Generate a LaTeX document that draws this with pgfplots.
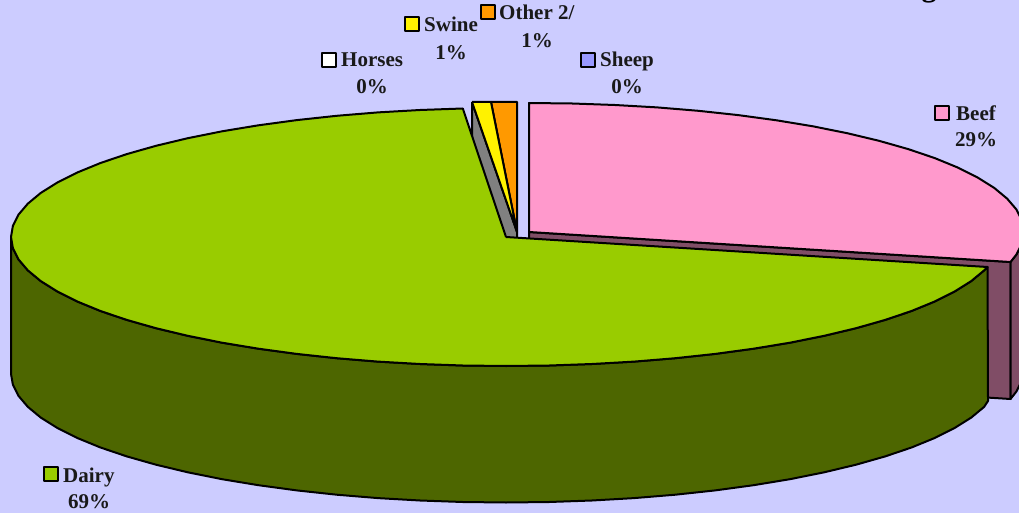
\documentclass[border=0pt]{standalone}
\usepackage{fontspec}
\setmainfont{Liberation Serif}
\usepackage{pgfplots}
\pgfplotsset{compat=1.18}
\definecolor{bgc}{HTML}{CCCCFF}
\definecolor{dairyc}{HTML}{99CC00}
\definecolor{dairyd}{HTML}{4D6600}
\definecolor{beefc}{HTML}{FF99CC}
\definecolor{beefd}{HTML}{804D66}
\definecolor{orangec}{HTML}{FF9900}
\definecolor{sheepc}{HTML}{9999FF}
\tikzset{lab/.style={font=\fontsize{21}{24}\selectfont\bfseries, text=black!90, inner sep=0pt}}
\begin{document}
\begin{tikzpicture}
\useasboundingbox (0,0) rectangle (1019pt,513pt);
\clip (0,0) rectangle (1019pt,513pt);
\begin{axis}[
  at={(0,0)}, anchor=south west, scale only axis, width=1019pt, height=513pt,
  xmin=0, xmax=1019, ymin=0, ymax=513, y dir=reverse, axis lines=none,
  clip=true,
  every axis plot/.append style={line width=2pt, line join=round},
]
% background
\addplot[fill=bgc, draw=none] coordinates {(0,0) (1019,0) (1019,513) (0,513) (0,0)};
% beef walls
\addplot[fill=beefd, draw=black] coordinates {(529,232) (1010.5,262) (1010.5,399) (529,369) (529,232)};
\addplot[fill=beefd, draw=black] coordinates {(1010.5,262) (1016.5,254.4) (1022.1,243.2) (1024,232) (1024,369) (1022.1,380.2) (1016.5,391.4) (1010.5,399) (1010.5,262)};
% beef top
\addplot[fill=beefc, draw=black] coordinates {(529,232) (529,103) (572.2,103.5) (614.9,105) (657.1,107.4) (698.3,110.8) (738.2,115.1) (776.5,120.3) (812.9,126.3) (847.2,133.2) (879,140.8) (908.2,149.1) (934.5,158) (957.7,167.5) (977.6,177.5) (994.2,187.9) (1007.1,198.6) (1016.5,209.6) (1022.1,220.8) (1024,232) (1022.1,243.2) (1016.5,254.4) (1010.5,262) (529,232)};
% small slices
\addplot[fill=gray, draw=black] coordinates {(472,102) (517,232) (517,369) (472,239) (472,102)};
\addplot[fill=orangec, draw=black] coordinates {(491,102) (517,102) (517,232) (491,102)};
\addplot[fill=yellow, draw=black] coordinates {(472,102) (491,102) (517,232) (472,102)};
% dairy wall
\addplot[fill=dairyd, draw=black] coordinates {(11,237) (12.9,248.2) (18.5,259.4) (27.9,270.4) (40.8,281.1) (57.4,291.5) (77.3,301.5) (100.5,311) (126.8,319.9) (156,328.2) (187.8,335.8) (222.1,342.7) (258.5,348.7) (296.8,353.9) (336.7,358.2) (377.9,361.6) (420.1,364) (462.8,365.5) (506,366) (549.2,365.5) (591.9,364) (634.1,361.6) (675.3,358.2) (715.2,353.9) (753.5,348.7) (789.9,342.7) (824.2,335.8) (856,328.2) (885.2,319.9) (911.5,311) (934.7,301.5) (954.6,291.5) (971.2,281.1) (984.1,270.4) (987.5,267) (988,401) (984.1,406.9) (971.2,417.6) (954.6,428) (934.7,438) (911.5,447.5) (885.2,456.4) (856,464.7) (824.2,472.3) (789.9,479.2) (753.5,485.2) (715.2,490.4) (675.3,494.7) (634.1,498.1) (591.9,500.5) (549.2,502) (506,502.5) (462.8,502) (420.1,500.5) (377.9,498.1) (336.7,494.7) (296.8,490.4) (258.5,485.2) (222.1,479.2) (187.8,472.3) (156,464.7) (126.8,456.4) (100.5,447.5) (77.3,438) (57.4,428) (40.8,417.6) (27.9,406.9) (18.5,395.9) (12.9,384.7) (11,374) (11,237)};
% dairy top
\addplot[fill=dairyc, draw=black] coordinates {(506,237) (987.5,267) (984.1,270.4) (971.2,281.1) (954.6,291.5) (934.7,301.5) (911.5,311) (885.2,319.9) (856,328.2) (824.2,335.8) (789.9,342.7) (753.5,348.7) (715.2,353.9) (675.3,358.2) (634.1,361.6) (591.9,364) (549.2,365.5) (506,366) (462.8,365.5) (420.1,364) (377.9,361.6) (336.7,358.2) (296.8,353.9) (258.5,348.7) (222.1,342.7) (187.8,335.8) (156,328.2) (126.8,319.9) (100.5,311) (77.3,301.5) (57.4,291.5) (40.8,281.1) (27.9,270.4) (18.5,259.4) (12.9,248.2) (11,237) (12.9,225.8) (18.5,214.6) (27.9,203.6) (40.8,192.9) (57.4,182.5) (77.3,172.5) (100.5,163) (126.8,154.1) (156,145.8) (187.8,138.2) (222.1,131.3) (258.5,125.3) (296.8,120.1) (336.7,115.8) (377.9,112.4) (420.1,110) (462.8,108.5) (506,237)};
% legend keys
\addplot[only marks, mark=square*, mark size=7pt, mark options={fill=white, draw=black, line width=2pt}] coordinates {(328.5,60)};
\addplot[only marks, mark=square*, mark size=7pt, mark options={fill=yellow, draw=black, line width=2pt}] coordinates {(412,24)};
\addplot[only marks, mark=square*, mark size=7pt, mark options={fill=orangec, draw=black, line width=2pt}] coordinates {(487.5,12)};
\addplot[only marks, mark=square*, mark size=7pt, mark options={fill=sheepc, draw=black, line width=2pt}] coordinates {(588,60)};
\addplot[only marks, mark=square*, mark size=7pt, mark options={fill=beefc, draw=black, line width=2pt}] coordinates {(942,113)};
\addplot[only marks, mark=square*, mark size=7pt, mark options={fill=dairyc, draw=black, line width=2pt}] coordinates {(51,474)};
% labels
\node[lab, anchor=base west] at (axis cs:341,67) {Horses};
\node[lab, anchor=base] at (axis cs:372,94) {0\%};
\node[lab, anchor=base west] at (axis cs:424,32) {Swine};
\node[lab, anchor=base] at (axis cs:451,59.5) {1\%};
\node[lab, anchor=base west] at (axis cs:499,20) {Other 2/};
\node[lab, anchor=base] at (axis cs:537,47.5) {1\%};
\node[lab, anchor=base west] at (axis cs:600,67) {Sheep};
\node[lab, anchor=base] at (axis cs:627,94) {0\%};
\node[lab, anchor=base west] at (axis cs:956,121) {Beef};
\node[lab, anchor=base] at (axis cs:976,147) {29\%};
\node[lab, anchor=base west] at (axis cs:63,482) {Dairy};
\node[lab, anchor=base] at (axis cs:89,508) {69\%};
% cropped title remnant
\node[anchor=base, inner sep=0pt, font=\fontsize{30}{36}\selectfont\bfseries] at (axis cs:929,-3) {g};
\end{axis}
\end{tikzpicture}
\end{document}
